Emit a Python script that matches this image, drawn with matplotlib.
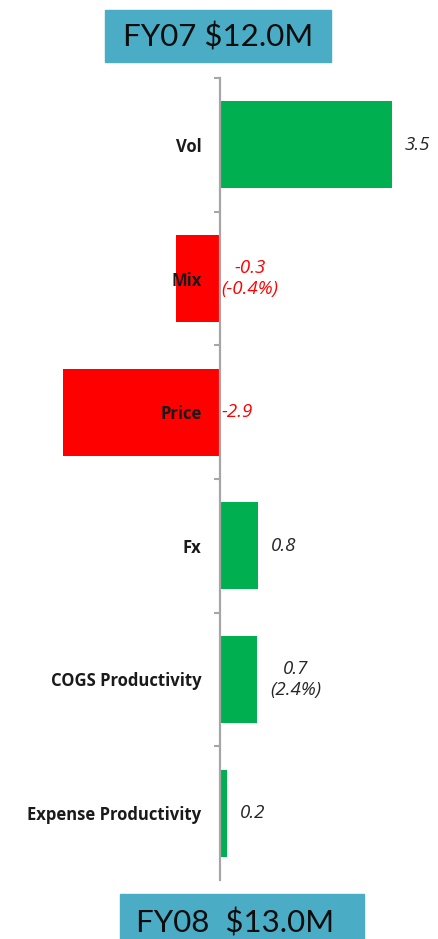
import matplotlib.pyplot as plt
from matplotlib.patches import Rectangle

# bridge FY07 -> FY08, bar lengths as drawn, labels as printed
categories = ['Vol', 'Mix', 'Price', 'Fx', 'COGS Productivity', 'Expense Productivity']
bar_values = [3.5, -0.88, -3.17, 0.78, 0.76, 0.15]
value_labels = ['3.5', '-0.3\n(-0.4%)', '-2.9', '0.8', '0.7\n(2.4%)', '0.2']
start_label = 'FY07 $12.0M'
end_label = 'FY08  $13.0M'

GREEN = '#00B050'
RED = '#FF0000'
BOX = '#4BACC6'
AXIS_GREY = '#A6A6A6'

plt.rcParams['font.family'] = ['Lato', 'DejaVu Sans']
SMALL_FONT = ['Open Sans', 'DejaVu Sans']

W, H = 438, 939
fig = plt.figure(figsize=(W / 100, H / 100), dpi=100)


def px(x0, y0, x1, y1):
    # pixel box (top-left origin) -> figure fraction rect
    return [x0 / W, 1 - y1 / H, (x1 - x0) / W, (y1 - y0) / H]


ax = fig.add_axes(px(0, 78, 438, 880))
scale = 49.3  # px per unit
ax.set_xlim(-219.5 / scale, 218.5 / scale)

y = list(range(len(categories)))
colors = [GREEN if v > 0 else RED for v in bar_values]
ax.barh(y, bar_values, height=0.65, color=colors)
ax.set_ylim(len(categories) - 0.5, -0.5)

for s in ['top', 'right', 'bottom']:
    ax.spines[s].set_visible(False)
ax.spines['left'].set_position(('data', 0))
ax.spines['left'].set_color(AXIS_GREY)
ax.spines['left'].set_linewidth(1.6)
ax.spines['left'].set_zorder(3)

ax.set_xticks([])
ax.set_yticks(y, categories, fontsize=12, fontweight='bold', color='#1a1a1a',
              family=SMALL_FONT)
ax.tick_params(axis='y', which='major', length=0, pad=13)
ax.set_yticks([i - 0.5 for i in y], minor=True)
ax.tick_params(axis='y', which='minor', length=4.5, width=1.5, color=AXIS_GREY)

for i, (v, lab) in enumerate(zip(bar_values, value_labels)):
    off = 13 if v > 0 else 2
    ax.annotate(lab, (max(v, 0), i), xytext=(off, 0), textcoords='offset pixels',
                ha='left', va='center', multialignment='center', style='italic',
                fontsize=13.5, family=SMALL_FONT, color=RED if v < 0 else '#262626')

# start / end boxes
top_box = px(105, 10, 331, 62)
fig.patches.append(Rectangle(top_box[:2], *top_box[2:],
                             transform=fig.transFigure, color=BOX))
fig.text(218 / W, 1 - 47 / H, start_label, ha='center', va='baseline',
         fontsize=22.5, color='#0D0D0D')
bottom_box = px(120, 894, 364, 950)
fig.patches.append(Rectangle(bottom_box[:2], *bottom_box[2:],
                             transform=fig.transFigure, color=BOX))
fig.text(235 / W, 1 - 932 / H, end_label, ha='center', va='baseline',
         fontsize=22.5, color='#0D0D0D')

fig.savefig('out.png', dpi=100)
